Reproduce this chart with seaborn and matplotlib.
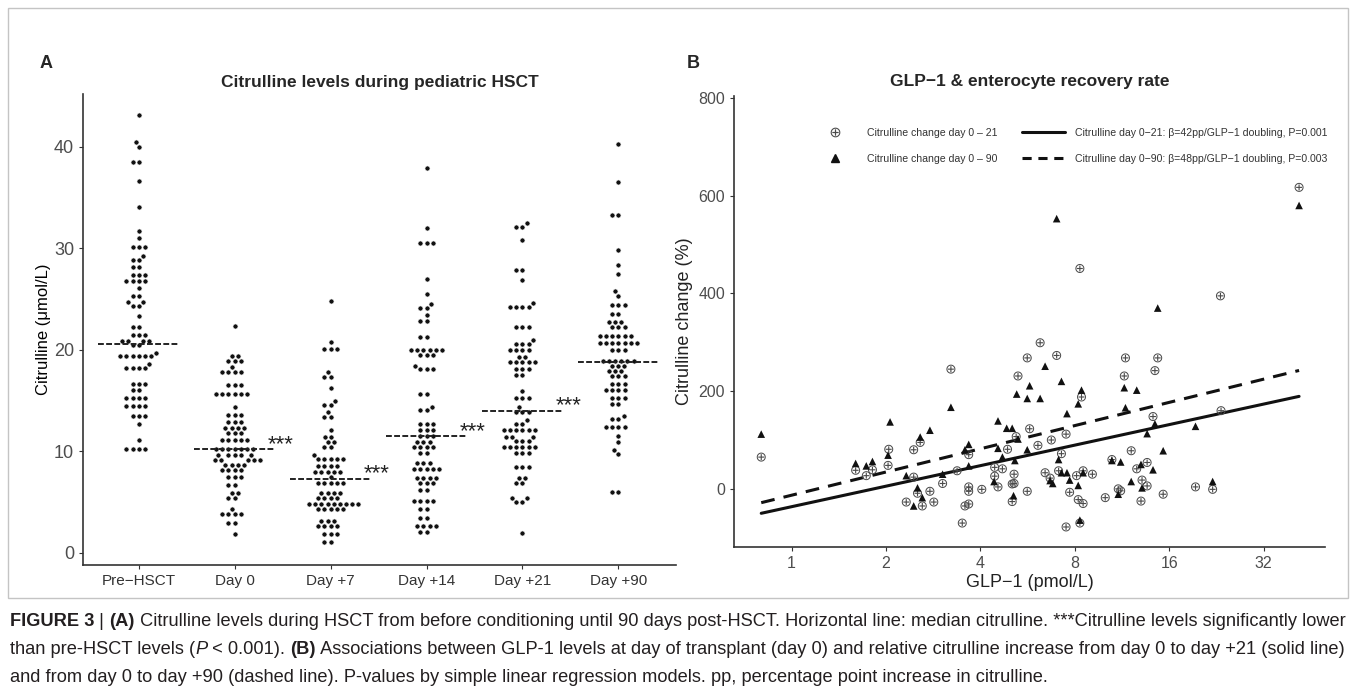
import numpy as np
import pandas as pd
import matplotlib
matplotlib.use("Agg")
import matplotlib.pyplot as plt
import seaborn as sns
from matplotlib.lines import Line2D
from matplotlib.patches import Rectangle
from matplotlib import font_manager

# ---------------- panel A: citrulline (umol/L), binned rows of the dot plot
timepoints = ["Pre\u2212HSCT", "Day 0", "Day +7", "Day +14", "Day +21", "Day +90"]

pre_vals = [43.1, 40.5, 40.0, 38.5, 36.6, 34.1, 31.7, 31.0, 30.1, 29.2, 28.8, 28.2, 27.4, 26.8,
            26.1, 25.3, 24.7, 24.3, 23.3, 22.2, 21.5, 20.9, 20.5, 19.7, 19.4, 18.6, 18.2, 16.6,
            16.0, 15.3, 14.5, 13.5, 12.7, 11.1, 10.2]
pre_counts = [1, 1, 1, 2, 1, 1, 1, 1, 3, 1, 2, 2, 3, 4, 1, 2, 2, 2, 1, 2, 3, 4, 2, 1, 6, 1, 4, 3,
              2, 4, 4, 3, 1, 1, 4]

d0_vals = [22.3, 19.4, 18.9, 18.3, 17.8, 16.5, 15.6, 14.4, 13.6, 12.9, 12.3, 11.8, 11.1, 10.2,
           9.6, 9.1, 8.7, 8.2, 7.5, 6.7, 5.9, 5.4, 4.3, 3.8, 2.9, 1.9]
d0_counts = [1, 2, 3, 1, 4, 3, 6, 1, 3, 3, 4, 3, 5, 7, 5, 5, 4, 4, 3, 2, 2, 2, 1, 4, 2, 1]

d7_vals = [24.8, 20.8, 20.1, 17.8, 17.3, 16.2, 15.0, 14.6, 13.9, 13.4, 12.1, 11.4, 10.9, 10.4,
           9.6, 9.2, 8.6, 8.0, 7.5, 6.9, 5.9, 5.4, 4.8, 4.3, 3.1, 2.6, 1.9, 1.1]
d7_counts = [1, 1, 3, 1, 2, 1, 1, 2, 1, 2, 1, 2, 2, 2, 1, 5, 4, 5, 1, 5, 4, 4, 9, 5, 3, 4, 3, 2]

d14_vals = [37.9, 32.0, 30.5, 27.0, 25.5, 24.5, 24.1, 23.4, 22.8, 21.3, 20.0, 19.5, 18.4, 18.1,
            15.6, 14.4, 14.1, 12.7, 12.1, 11.5, 10.9, 10.4, 9.8, 8.8, 8.3, 7.4, 6.9, 6.2, 5.1,
            4.3, 3.4, 2.6, 2.1]
d14_counts = [1, 1, 3, 1, 1, 1, 2, 1, 2, 2, 6, 3, 1, 3, 2, 1, 2, 3, 3, 3, 3, 4, 2, 3, 5, 4, 3, 2,
              4, 2, 2, 4, 2]

d21_vals = [32.5, 32.1, 30.8, 27.9, 26.9, 24.6, 24.2, 22.2, 21.0, 20.6, 20.0, 19.3, 18.8, 18.1,
            17.5, 15.9, 15.3, 14.4, 13.9, 13.1, 12.7, 12.1, 11.4, 11.0, 10.4, 9.8, 8.5, 7.4, 6.9,
            5.4, 5.0, 2.0]
d21_counts = [1, 2, 1, 2, 1, 1, 4, 3, 1, 3, 4, 2, 5, 3, 2, 1, 3, 1, 3, 1, 2, 6, 3, 3, 6, 3, 3, 2,
              2, 2, 2, 1]

d90_vals = [40.3, 36.5, 33.3, 29.8, 28.4, 27.5, 25.8, 25.3, 24.4, 23.5, 22.7, 22.2, 21.4, 20.7,
            20.0, 18.9, 18.4, 17.9, 17.4, 16.6, 16.0, 15.3, 14.7, 13.5, 13.2, 12.4, 11.5, 10.9,
            10.1, 9.7, 6.0]
d90_counts = [1, 1, 2, 1, 1, 1, 1, 1, 3, 2, 3, 3, 6, 7, 3, 6, 3, 3, 3, 3, 4, 3, 2, 1, 2, 4, 1, 1,
              1, 1, 2]

medians = [20.6, 10.2, 7.3, 11.5, 14.0, 18.8]
signif = ["", "***", "***", "***", "***", ""]

# ---------------- panel B: GLP-1 (pmol/L) vs citrulline change (%)
glp1_d21 = [0.80, 1.60, 1.73, 1.81, 2.03, 2.04, 2.32, 2.45, 2.45, 2.52, 2.57, 2.61, 2.76, 2.84,
            3.03, 3.22, 3.37, 3.50, 3.57, 3.67, 3.67, 3.67, 3.67, 4.04, 4.44, 4.44, 4.55, 4.70,
            4.88, 5.05, 5.05, 5.12, 5.12, 5.20, 5.27, 5.64, 5.64, 5.74, 6.10, 6.20, 6.43, 6.67,
            6.73, 7.00, 7.10, 7.25, 7.50, 7.70, 7.50, 8.10, 8.20, 8.30, 8.40, 8.50, 8.50, 8.30,
            9.10, 10.0, 10.5, 11.0, 11.2, 11.5, 11.6, 12.1, 12.6, 13.0, 13.1, 13.6, 13.6, 14.2,
            14.4, 14.7, 15.3, 19.4, 22.0, 23.3, 23.4, 41.5]
change_d21 = [65, 38, 27, 39, 48, 81, -27, 80, 24, -9, 95, -35, -5, -27,
              11, 245, 37, -70, -35, -31, 70, 4, -5, -1, 44, 26, 4, 41,
              81, 10, -26, 30, 11, 107, 231, 268, -5, 123, 89, 299, 33, 22,
              100, 273, 37, 72, 112, -7, -78, 27, -22, 451, 188, 37, -30, -70,
              30, -18, 60, 0, -4, 231, 268, 78, 41, -25, 18, 54, 6, 148,
              242, 268, -11, 4, -1, 395, 160, 617]

glp1_d90 = [0.80, 1.60, 1.73, 1.81, 2.03, 2.06, 2.32, 2.45, 2.52, 2.57, 2.61, 2.76, 3.03, 3.22,
            3.57, 3.67, 3.67, 4.42, 4.55, 4.55, 4.70, 4.85, 5.05, 5.10, 5.15, 5.22, 5.27, 5.64,
            5.64, 5.74, 6.20, 6.43, 6.67, 6.80, 7.00, 7.10, 7.25, 7.25, 7.55, 7.55, 7.70, 8.20,
            8.20, 8.30, 8.40, 8.50, 10.5, 11.0, 11.2, 11.5, 11.6, 12.1, 12.6, 13.0, 13.1, 13.6,
            14.2, 14.4, 14.7, 15.3, 19.4, 22.0, 41.5]
change_d90 = [112, 52, 47, 56, 69, 137, 27, -35, 2, 106, -18, 120, 30, 167,
              80, 91, 47, 15, 139, 83, 65, 124, 124, -14, 58, 194, 102, 185,
              80, 211, 185, 251, 17, 11, 553, 60, 220, 33, 154, 33, 18, 174,
              7, -64, 202, 33, 58, -11, 55, 207, 166, 15, 202, 50, 2, 113,
              39, 133, 370, 78, 128, 15, 580]

# regression fits as printed in the figure: change = intercept + slope * log2(GLP-1)
fit_d21 = (-36.5, 42.0)
fit_d90 = (-13.0, 47.5)

glp1_ticks = [1, 2, 4, 8, 16, 32]

# ---------------- fonts / theme
sns.set_theme(style="white")
names = {f.name for f in font_manager.fontManager.ttflist}
main_font = "Liberation Sans Narrow" if "Liberation Sans Narrow" in names else "Liberation Sans"
plt.rcParams["font.family"] = [main_font, "DejaVu Sans"]

W, H = 1356, 693
fig = plt.figure(figsize=(W / 100, H / 100), dpi=100)
fig.patch.set_facecolor("white")


def box(left, top, right, bottom):
    return [left / W, 1 - bottom / H, (right - left) / W, (bottom - top) / H]


tick_col = "#4d4d4d"

# ---------------- panel A
axa = fig.add_axes(box(83, 94, 676, 565))
parts = []
for name, vals, cnts in zip(timepoints,
                            [pre_vals, d0_vals, d7_vals, d14_vals, d21_vals, d90_vals],
                            [pre_counts, d0_counts, d7_counts, d14_counts, d21_counts, d90_counts]):
    parts.append(pd.DataFrame({"timepoint": name, "citrulline": np.repeat(vals, cnts)}))
dfa = pd.concat(parts, ignore_index=True)

# white edge widens the swarm spacing a little, like ggplot's dot plot
sns.swarmplot(data=dfa, x="timepoint", y="citrulline", order=timepoints, color="#111111",
              size=3.7, edgecolor="white", linewidth=0.5, ax=axa)

for i, (m, s) in enumerate(zip(medians, signif)):
    axa.plot([i - 0.42, i + 0.42], [m, m], color="#222222", lw=1.4, ls=(0, (3, 1.2)), zorder=5)
    if s:
        axa.text(i + 0.35, m + 0.45, s, fontsize=16, color="#222222", va="center", ha="left")

axa.set_xlim(-0.58, 5.6)
axa.set_ylim(-1.2, 45.2)
axa.set_yticks([0, 10, 20, 30, 40])
axa.set_xlabel("")
axa.set_ylabel("Citrulline (\u03bcmol/L)", fontsize=12, color="black", labelpad=2)
axa.set_title("Citrulline levels during pediatric HSCT", fontsize=12.5, fontweight="bold",
              pad=5)
axa.tick_params(axis="y", labelsize=13, colors="#333333", labelcolor=tick_col, length=3,
                width=0.8, left=True)
axa.tick_params(axis="x", labelsize=11, colors="#333333", labelcolor="#333333", length=3,
                width=0.8, bottom=True)
for side in ["top", "right"]:
    axa.spines[side].set_visible(False)
for side in ["left", "bottom"]:
    axa.spines[side].set_color("#333333")
    axa.spines[side].set_linewidth(1.2)
fig.text(40 / W, 1 - 63 / H, "A", fontsize=13, fontweight="bold", va="center")

# ---------------- panel B
axb = fig.add_axes(box(734, 96, 1325, 547))
b21 = pd.DataFrame({"glp1": glp1_d21, "change": change_d21})
b90 = pd.DataFrame({"glp1": glp1_d90, "change": change_d90})
axb.set_xscale("log", base=2)

sns.scatterplot(data=b21, x="glp1", y="change", marker=r"$\oplus$", s=42, color="#4a4a4a",
                edgecolor="none", ax=axb, zorder=3)
sns.scatterplot(data=b90, x="glp1", y="change", marker="^", s=30, color="#111111",
                edgecolor="none", ax=axb, zorder=3)

for df, (a, b), style in [(b21, fit_d21, "-"), (b90, fit_d90, (0, (4.5, 3)))]:
    grid = np.geomspace(df["glp1"].min(), df["glp1"].max(), 50)
    line = pd.DataFrame({"glp1": grid, "fit": a + b * np.log2(grid)})
    sns.lineplot(data=line, x="glp1", y="fit", color="#111111", lw=2.2, ls=style, ax=axb,
                 zorder=2)

axb.set_xlim(0.655, 50.2)
axb.set_ylim(-119, 804)
axb.set_xticks(glp1_ticks, labels=[str(t) for t in glp1_ticks])
axb.xaxis.set_minor_locator(matplotlib.ticker.NullLocator())
axb.set_yticks([0, 200, 400, 600, 800])
axb.set_xlabel("GLP\u22121 (pmol/L)", fontsize=13, color="#222222", labelpad=2)
axb.set_ylabel("Citrulline change (%)", fontsize=13, color="#222222", labelpad=4)
axb.set_title("GLP\u22121 & enterocyte recovery rate", fontsize=12.5, fontweight="bold", pad=7)
axb.tick_params(axis="both", labelsize=11.5, colors="#333333", labelcolor=tick_col, length=3,
                width=0.8, left=True, bottom=True)
for side in ["top", "right"]:
    axb.spines[side].set_visible(False)
for side in ["left", "bottom"]:
    axb.spines[side].set_color("#333333")
    axb.spines[side].set_linewidth(1.2)
fig.text(687 / W, 1 - 63 / H, "B", fontsize=13, fontweight="bold", va="center")

handles = [
    Line2D([], [], ls="none", marker=r"$\oplus$", color="#4a4a4a", ms=7, mew=0),
    Line2D([], [], ls="none", marker="^", color="#111111", ms=5.5),
    Line2D([], [], color="#111111", lw=2.2),
    Line2D([], [], color="#111111", lw=2.2, ls=(0, (3, 2.2))),
]
labels = [
    "Citrulline change day 0 \u2013 21",
    "Citrulline change day 0 \u2013 90",
    "Citrulline day 0\u221221: \u03b2=42pp/GLP\u22121 doubling, P=0.001",
    "Citrulline day 0\u221290: \u03b2=48pp/GLP\u22121 doubling, P=0.003",
]
axb.legend(handles, labels, ncol=2, frameon=False, fontsize=7.6, loc="upper left",
           bbox_to_anchor=(0.135, 0.93), borderpad=0, borderaxespad=0, handlelength=4.0,
           handletextpad=1.0, columnspacing=2.4, labelspacing=1.55, labelcolor="#333333")

# ---------------- frame around the panels
fig.add_artist(Rectangle((8 / W, 1 - 598 / H), (1348 - 8) / W, (598 - 8) / H,
                         transform=fig.transFigure, fill=False, edgecolor="#c4c4c4", lw=1.0))

# ---------------- caption with bold runs
caption_lines = [
    [("FIGURE 3", "bold", "normal"), (" | ", "normal", "normal"), ("(A)", "bold", "normal"),
     (" Citrulline levels during HSCT from before conditioning until 90 days post-HSCT. "
      "Horizontal line: median citrulline. ***Citrulline levels significantly lower",
      "normal", "normal")],
    [("than pre-HSCT levels (", "normal", "normal"), ("P", "normal", "italic"),
     (" < 0.001). ", "normal", "normal"), ("(B)", "bold", "normal"),
     (" Associations between GLP-1 levels at day of transplant (day 0) and relative citrulline "
      "increase from day 0 to day +21 (solid line)", "normal", "normal")],
    [("and from day 0 to day +90 (dashed line). P-values by simple linear regression models. "
      "pp, percentage point increase in citrulline.", "normal", "normal")],
]
caption_y = [622, 650, 678]

renderer = fig.canvas.get_renderer()


def run_width(txt, size, weight, style):
    t1 = fig.text(0, 0, "|" + txt + "|", fontsize=size, fontweight=weight, fontstyle=style)
    t2 = fig.text(0, 0, "||", fontsize=size, fontweight=weight, fontstyle=style)
    w = t1.get_window_extent(renderer).width - t2.get_window_extent(renderer).width
    t1.remove()
    t2.remove()
    return w


cap_size = 11.0
first_w = sum(run_width(t, cap_size, w, s) for t, w, s in caption_lines[0])
cap_size = cap_size * (1335 / first_w)

for line, ypx in zip(caption_lines, caption_y):
    x = 10.0
    for txt, weight, style in line:
        fig.text(x / W, 1 - ypx / H, txt, fontsize=cap_size, fontweight=weight, fontstyle=style,
                 color="#231f20", va="center", ha="left")
        x += run_width(txt, cap_size, weight, style)

fig.savefig("out.png", dpi=100, facecolor="white")
